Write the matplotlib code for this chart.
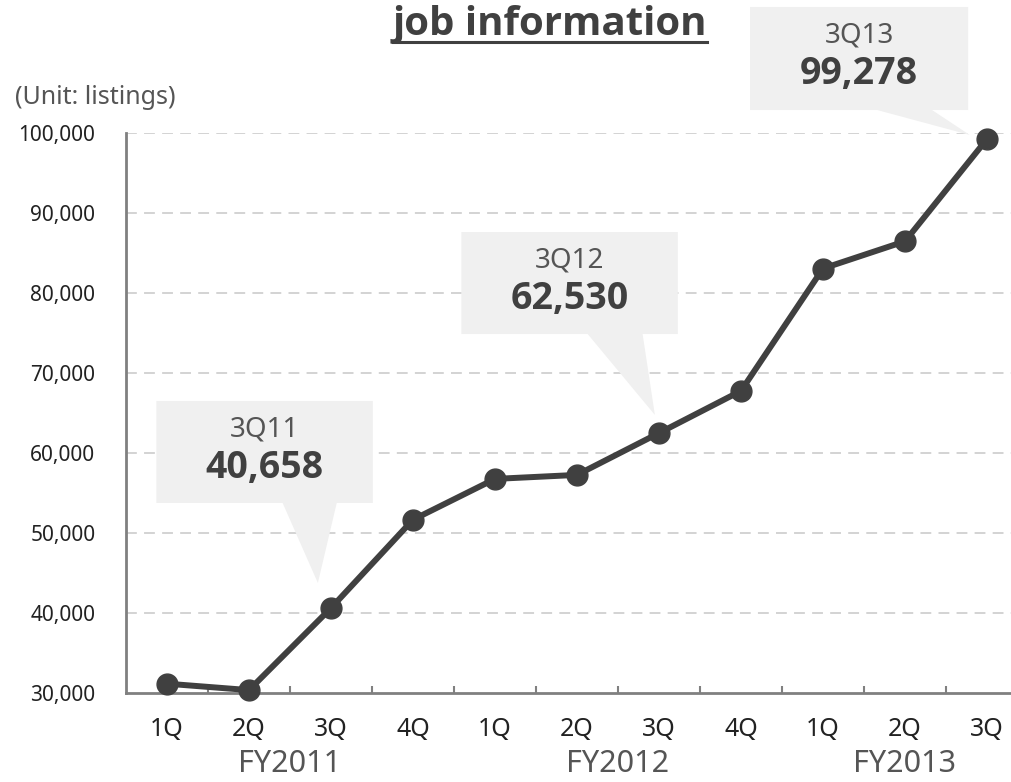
import matplotlib
matplotlib.use("Agg")
import matplotlib.pyplot as plt
from matplotlib.patches import Polygon
from matplotlib.lines import Line2D
from matplotlib.ticker import FuncFormatter

# data
quarters = ["1Q", "2Q", "3Q", "4Q", "1Q", "2Q", "3Q", "4Q", "1Q", "2Q", "3Q"]
listings = [31200, 30400, 40658, 51700, 56800, 57300, 62530, 67800, 83100, 86500, 99278]
fiscal_years = ["FY2011", "FY2012", "FY2013"]
fy_centers = [1.5, 5.5, 9.0]

# callout boxes: (point index, label, box l, r, top, bottom, base l, base r, tip x, tip y)
callouts = [
	(2, "3Q11", -0.13, 2.51, 66540, 53790, 1.41, 2.07, 1.84, 43790),
	(6, "3Q12", 3.59, 6.23, 87660, 74910, 5.13, 5.80, 5.95, 64790),
	(10, "3Q13", 7.11, 9.77, 115790, 102910, 8.66, 9.33, 9.79, 99790),
]

FONT = ["Noto Sans", "DejaVu Sans"]
BOLD = ["Open Sans", "DejaVu Sans"]
plt.rcParams["font.family"] = FONT
DARK = "#404040"
GRAY = "#808080"

fig = plt.figure(figsize=(10.11, 7.82), dpi=100)
ax = fig.add_axes([126 / 1011, 88.7 / 782, 902 / 1011, 560 / 782])

x = list(range(len(listings)))
ax.plot(x, listings, color=DARK, lw=4.3, marker="o", ms=15,
	zorder=4, clip_on=False)

ax.set_xlim(-0.5, 10.5)
ax.set_ylim(30000, 100000)
ax.set_yticks(range(30000, 100001, 10000))
ax.yaxis.set_major_formatter(FuncFormatter(lambda v, p: "{:,.0f}".format(v)))
ax.tick_params(axis="y", length=0, pad=22, labelsize=15, labelcolor="#222222")

ax.set_xticks(x)
ax.set_xticklabels(quarters)
ax.tick_params(axis="x", which="major", length=0, pad=17, labelsize=18,
	labelcolor="#222222")
ax.set_xticks([i + 0.5 for i in range(10)], minor=True)
ax.tick_params(axis="x", which="minor", direction="in", length=5,
	width=1.5, color=GRAY)

for s in ["top", "right"]:
	ax.spines[s].set_visible(False)
for s in ["left", "bottom"]:
	ax.spines[s].set_color(GRAY)
	ax.spines[s].set_linewidth(2)

for v in range(40000, 100001, 10000):
	ax.axhline(v, color="#d0d0d0", lw=1.3, ls=(0, (6, 4)), zorder=1)

# fiscal year labels under the quarters
for name, c in zip(fiscal_years, fy_centers):
	ax.text(c, -0.127, name, transform=ax.get_xaxis_transform(),
		ha="center", va="center", fontsize=22, color="#555555")

# speech bubble callouts
for idx, lab, l, r, t, b, bl, br, tx, ty in callouts:
	verts = [(l, t), (r, t), (r, b), (br, b), (tx, ty), (bl, b), (l, b)]
	ax.add_patch(Polygon(verts, closed=True, facecolor="#f0f0f0",
		edgecolor="none", zorder=3, clip_on=False))
	cx = (l + r) / 2
	ax.text(cx, t - 3600, lab, ha="center", va="center", fontsize=20,
		color="#555555", zorder=5, clip_on=False)
	ax.text(cx, t - 8400, "{:,}".format(listings[idx]), ha="center",
		va="center", fontsize=27, fontweight="bold", color=DARK,
		family=BOLD, zorder=5, clip_on=False)

fig.text(15 / 1011, 1 - 97 / 782, "(Unit: listings)", ha="left",
	va="center", fontsize=18, color="#555555")

title = fig.text(550 / 1011, 1 - 25 / 782, "job information", ha="center",
	va="center", fontsize=29, fontweight="bold", color=DARK, family=BOLD)

# underline the title
fig.canvas.draw()
bb = title.get_window_extent()
ly = (782 - 42) / 782
fig.add_artist(Line2D([bb.x0 / 1011, bb.x1 / 1011], [ly, ly],
	transform=fig.transFigure, color=DARK, lw=2.2))

fig.savefig("out.png", dpi=100)
